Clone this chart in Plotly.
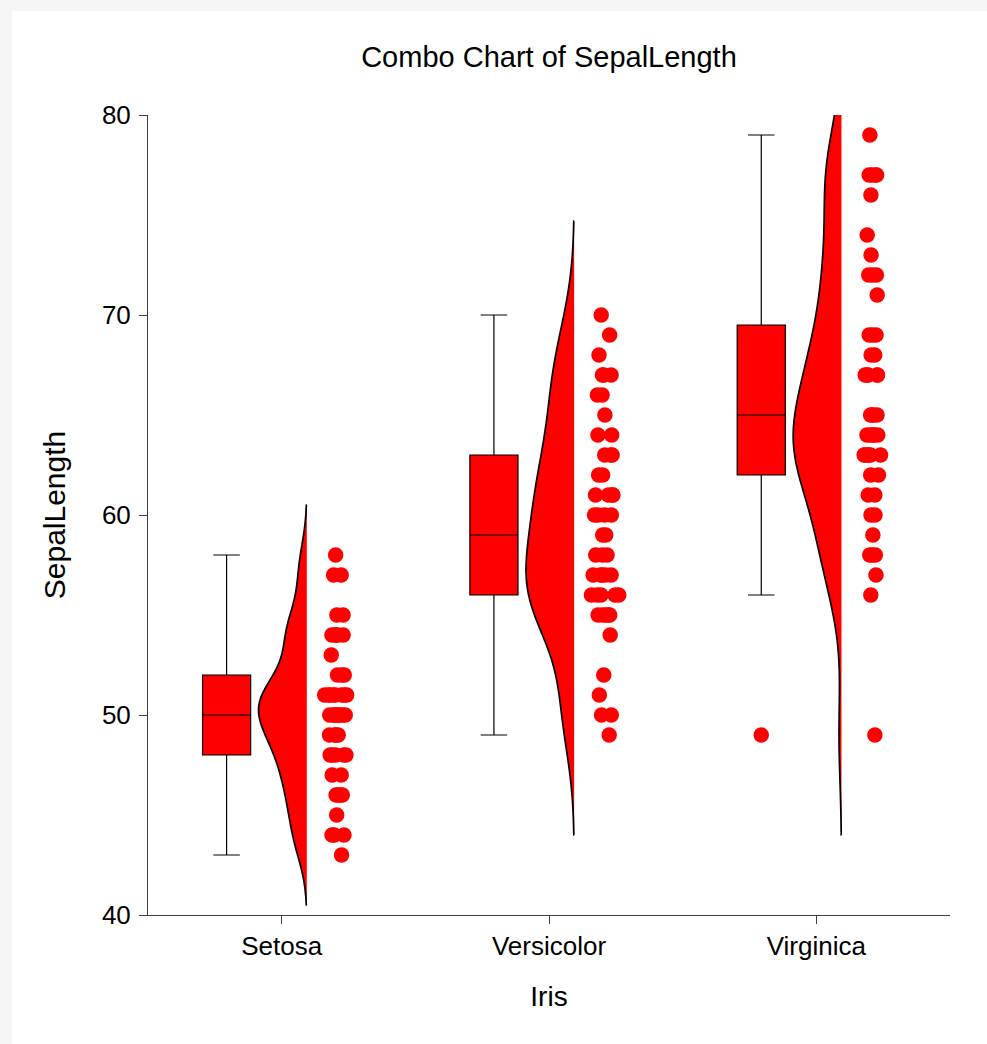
import math
import plotly.graph_objects as go

# ---------------- data (sepal length x10) ----------------
categories = ["Setosa", "Versicolor", "Virginica"]
setosa = [51, 49, 47, 46, 50, 54, 46, 50, 44, 49, 54, 48, 48, 43, 58, 57, 54, 51, 57, 51,
          54, 51, 46, 51, 48, 50, 50, 52, 52, 47, 48, 54, 52, 55, 49, 50, 55, 49, 44, 51,
          50, 45, 44, 50, 51, 48, 51, 46, 53, 50]
versicolor = [70, 64, 69, 55, 65, 57, 63, 49, 66, 52, 50, 59, 60, 61, 56, 67, 56, 58, 62, 56,
              59, 61, 63, 61, 64, 66, 68, 67, 60, 57, 55, 55, 58, 60, 54, 60, 67, 63, 56, 55,
              55, 61, 58, 50, 56, 57, 57, 62, 51, 57]
virginica = [63, 58, 71, 63, 65, 76, 49, 73, 67, 72, 65, 64, 68, 57, 58, 64, 65, 77, 77, 60,
             69, 56, 77, 63, 67, 72, 62, 61, 64, 72, 74, 79, 64, 63, 61, 77, 63, 64, 60, 69,
             67, 69, 58, 68, 67, 67, 63, 65, 62, 59]
groups = [setosa, versicolor, virginica]
density_spans = [[40.5, 60.5], [44.0, 74.7], [44.0, 84.0]]
density_bandwidths = [1.25, 2.2, 2.3]
y_tick_values = [40, 50, 60, 70, 80]

# ---------------- styling ----------------
RED = "#FF0000"
AXIS_COLOR = "#404040"
FONT = "Arial, 'Liberation Sans', sans-serif"
BOX_OFFSET, BOX_WIDTH = -0.206, 0.18
VIOLIN_OFFSET, VIOLIN_HALF = 0.094, 0.18
DOT_BOX_WIDTH, DOT_POINTPOS, DOT_JITTER = 0.22, 1.93, 0.5
DOT_SIZE = 15.5


def quantile(vals, p):
    s = sorted(vals)
    n = len(s)
    pos = (n + 1) * p
    k = int(math.floor(pos))
    frac = pos - k
    if k < 1:
        return s[0]
    if k >= n:
        return s[-1]
    return s[k - 1] + frac * (s[k] - s[k - 1])


fig = go.Figure()

for i, (name, vals) in enumerate(zip(categories, groups)):
    pos = i + 1
    q1, med, q3 = quantile(vals, 0.25), quantile(vals, 0.5), quantile(vals, 0.75)
    iqr = q3 - q1
    lo_f, hi_f = q1 - 1.5 * iqr, q3 + 1.5 * iqr
    inside = [v for v in vals if lo_f <= v <= hi_f]
    outliers = [v for v in vals if v < lo_f or v > hi_f]

    # box
    fig.add_trace(go.Box(
        x=[pos + BOX_OFFSET], q1=[q1], median=[med], q3=[q3],
        lowerfence=[min(inside)], upperfence=[max(inside)],
        width=BOX_WIDTH, whiskerwidth=0.55,
        fillcolor=RED, line=dict(color="black", width=1.2),
        boxpoints=False, showlegend=False, name=name,
    ))
    if outliers:
        fig.add_trace(go.Scatter(
            x=[pos + BOX_OFFSET] * len(outliers), y=outliers, mode="markers",
            marker=dict(color=RED, size=DOT_SIZE, line=dict(width=0)),
            showlegend=False,
        ))

    # half violin
    fig.add_trace(go.Violin(
        y=vals, x0=pos + VIOLIN_OFFSET, side="negative",
        width=2 * VIOLIN_HALF, scalemode="width",
        bandwidth=density_bandwidths[i], spanmode="manual", span=density_spans[i],
        fillcolor=RED, line=dict(color="black", width=1.7),
        points=False, showlegend=False, name=name,
    ))

    # jittered dots
    fig.add_trace(go.Box(
        y=vals, x0=pos, width=DOT_BOX_WIDTH,
        boxpoints="all", jitter=DOT_JITTER, pointpos=DOT_POINTPOS,
        fillcolor="rgba(0,0,0,0)", line=dict(color="rgba(0,0,0,0)", width=0),
        whiskerwidth=0,
        marker=dict(color=RED, size=DOT_SIZE, line=dict(width=0)),
        showlegend=False, name=name,
    ))

W, H = 987, 1044
L, R, T, B = 148, 37, 115, 129
pw, ph = W - L - R, H - T - B

fig.update_layout(
    width=W, height=H,
    margin=dict(l=L, r=R, t=T, b=B, pad=0),
    paper_bgcolor="#f5f5f5", plot_bgcolor="white",
    font=dict(family=FONT, color="black"),
    showlegend=False,
    title=dict(text="Combo Chart of SepalLength", font=dict(size=29, color="black"),
               x=0.5, xref="paper", xanchor="center",
               y=1 - 57 / H, yref="container", yanchor="middle"),
    shapes=[dict(type="rect", xref="paper", yref="paper", layer="below",
                 x0=(12 - L) / pw, x1=(W + 5 - L) / pw,
                 y0=-(H + 5 - (T + ph)) / ph, y1=(T + ph - 11) / ph,
                 fillcolor="white", line=dict(width=0))],
    xaxis=dict(type="linear", range=[0.5, 3.5], tickvals=[1, 2, 3], ticktext=categories,
               ticks="outside", ticklen=8, tickcolor=AXIS_COLOR, tickwidth=1,
               showline=True, linecolor=AXIS_COLOR, linewidth=1,
               showgrid=False, zeroline=False, tickfont=dict(size=26),
               title=dict(text="Iris", font=dict(size=28), standoff=26)),
    yaxis=dict(range=[40, 80], tickvals=y_tick_values,
               ticks="outside", ticklen=8, tickcolor=AXIS_COLOR, tickwidth=1,
               showline=True, linecolor=AXIS_COLOR, linewidth=1,
               showgrid=False, zeroline=False, tickfont=dict(size=26),
               ticklabelstandoff=3,
               title=dict(text="SepalLength", font=dict(size=30), standoff=27)),
)

fig.write_html("out.html")
